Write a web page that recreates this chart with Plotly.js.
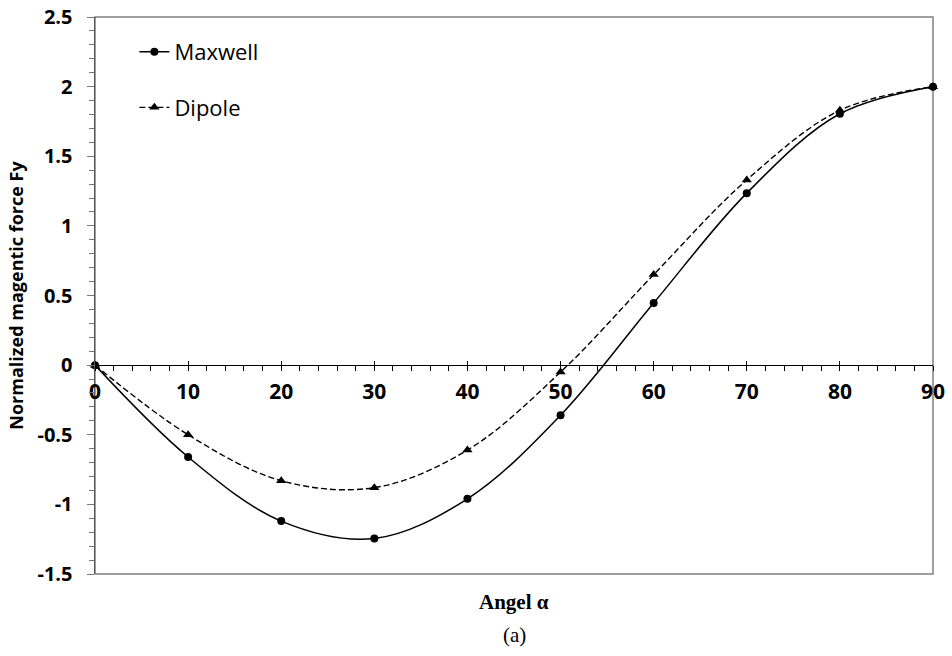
<!DOCTYPE html>
<html>
<head>
<meta charset="utf-8">
<script src="https://cdn.plot.ly/plotly-3.0.1.min.js"></script>
<style>
  html, body { margin: 0; padding: 0; background: #fff; }
  #chart { width: 952px; height: 656px; }
</style>
</head>
<body>
<div id="chart"></div>
<script>
// Angle of rotation (degrees)
const angles = [0, 10, 20, 30, 40, 50, 60, 70, 80, 90];
// Normalized magnetic force Fy, Maxwell stress tensor
const maxwellFy = [0, -0.66, -1.12, -1.245, -0.96, -0.36, 0.446, 1.235, 1.805, 2.0];
// Normalized magnetic force Fy, dipole model
const dipoleFy = [0, -0.50, -0.83, -0.88, -0.61, -0.05, 0.65, 1.33, 1.83, 2.0];

const xTickVals = [0, 10, 20, 30, 40, 50, 60, 70, 80, 90];
const yTickVals = [-1.5, -1, -0.5, 0, 0.5, 1, 1.5, 2, 2.5];
const yTickText = ['-1.5', '-1', '-0.5', '0', '0.5', '1', '1.5', '2', '2.5'];

const sans = 'Open Sans, Noto Sans, sans-serif';

const traces = [
  {
    x: angles, y: maxwellFy, name: 'Maxwell', type: 'scatter', mode: 'lines+markers',
    line: { color: '#000', width: 1.5, shape: 'spline', smoothing: 1 },
    marker: { symbol: 'circle', size: 8, color: '#000' },
    legendgroup: 'm', cliponaxis: false
  },
  {
    x: angles, y: dipoleFy, name: 'Dipole', type: 'scatter', mode: 'lines+markers',
    line: { color: '#000', width: 1.4, dash: '6px,3px', shape: 'spline', smoothing: 1 },
    marker: { symbol: 'triangle-up', size: 9, color: '#000' },
    legendgroup: 'd', cliponaxis: false
  }
];

const layout = {
  width: 952, height: 656,
  margin: { l: 95, r: 19, t: 17, b: 82 },
  paper_bgcolor: '#fff', plot_bgcolor: '#fff',
  showlegend: true,
  legend: {
    x: 0.047, y: 0.975, xanchor: 'left', yanchor: 'top',
    font: { family: sans, size: 22, color: '#000' },
    bgcolor: 'rgba(0,0,0,0)', tracegroupgap: 24, itemwidth: 30
  },
  xaxis: {
    range: [0, 90], anchor: 'free', position: 0.375,
    showgrid: false, zeroline: false,
    showline: true, linecolor: '#000', linewidth: 1,
    tickmode: 'array', tickvals: xTickVals,
    ticks: 'outside', ticklen: 5, tickcolor: '#000', tickwidth: 1,
    minor: { dtick: 2, ticks: 'outside', ticklen: 5, tickcolor: '#000', showgrid: false },
    tickfont: { family: sans, size: 21, color: '#000', weight: 'bold' },
    ticklabelstandoff: 3
  },
  xaxis2: {
    matches: 'x', overlaying: 'x', anchor: 'free', position: 0.375,
    showgrid: false, zeroline: false, showline: false,
    tickmode: 'array', tickvals: xTickVals,
    ticks: 'inside', ticklen: 4, tickcolor: '#000', showticklabels: false
  },
  yaxis: {
    range: [-1.5, 2.5],
    showgrid: false, zeroline: false,
    showline: true, linecolor: '#555', linewidth: 1.5,
    tickmode: 'array', tickvals: yTickVals, ticktext: yTickText,
    ticks: 'outside', ticklen: 7, tickcolor: '#777', tickwidth: 1,
    minor: { dtick: 0.1, ticks: 'outside', ticklen: 5, tickcolor: '#777', showgrid: false },
    tickfont: { family: sans, size: 20, color: '#000', weight: 'bold' },
    ticklabelstandoff: 10,
    title: {
      text: 'Normalized magentic force Fy',
      font: { family: sans, size: 18, color: '#000', weight: 'bold' },
      standoff: 9
    }
  },
  shapes: [
    { type: 'rect', xref: 'paper', yref: 'paper', x0: 0, x1: 1, y0: 0, y1: 1,
      line: { color: '#808080', width: 1.5 }, layer: 'below' }
  ],
  annotations: [
    { text: '<b>Angel α</b>', xref: 'paper', yref: 'paper', x: 0.5, y: -0.026, yanchor: 'top',
      showarrow: false, font: { family: 'Liberation Serif, serif', size: 21, color: '#000' } },
    { text: '(a)', xref: 'paper', yref: 'paper', x: 0.5, y: -0.085, yanchor: 'top',
      showarrow: false, font: { family: 'Liberation Serif, serif', size: 21, color: '#000' } }
  ]
};

// invisible trace so the secondary x-axis (inner half of the crossing major ticks) is drawn
traces.push({ x: [0], y: [0], xaxis: 'x2', yaxis: 'y', mode: 'none', showlegend: false, hoverinfo: 'skip', type: 'scatter' });

Plotly.newPlot('chart', traces, layout, { staticPlot: true });
</script>
</body>
</html>
